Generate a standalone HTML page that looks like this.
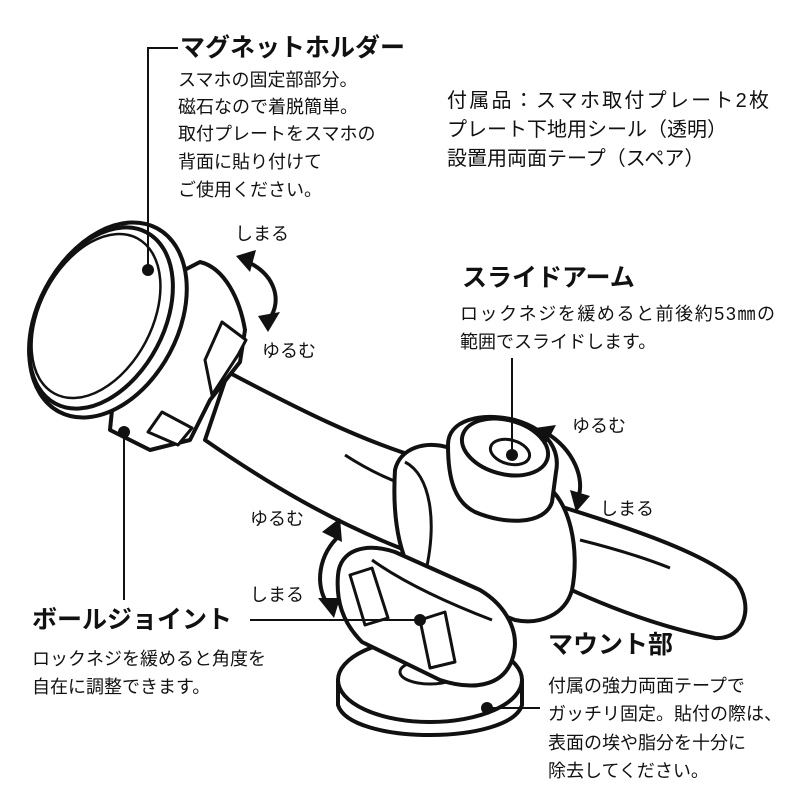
<!DOCTYPE html>
<html><head><meta charset="utf-8"><style>
html,body{margin:0;padding:0;background:#fff;}
svg{display:block;}
text{font-family:"Liberation Sans","Noto Sans CJK JP",sans-serif;fill:#111;}
.h{font-size:25px;font-weight:bold;}
.t{font-size:18px;}
.a{font-size:20px;}
</style></head><body>
<svg width="800" height="800" viewBox="0 0 800 800" xmlns="http://www.w3.org/2000/svg">
<g fill="#fff" stroke="#111" stroke-width="4" stroke-linejoin="round">
<!-- right arm part -->
<path d="M540,500 C620,525 700,550 735,580 C755,605 745,640 715,638 C650,625 590,600 540,575 Z"/>
<path d="M580,540 C620,550 650,560 670,568" fill="none" stroke-width="3"/>
<!-- left arm part -->
<path d="M228,372 C300,410 360,440 420,458 L400,548 C330,520 270,485 205,440 Z"/>
<path d="M345,455 C365,468 385,478 405,485" fill="none" stroke-width="3"/>
<!-- slider body -->
<path d="M395,470 C400,448 425,440 450,448 L545,485 C570,500 580,550 572,590 C565,615 540,625 515,620 L425,585 C400,570 392,520 395,470 Z"/>
<path d="M405,462 C430,475 438,520 425,575" fill="none" stroke-width="3"/>
<!-- slider knob -->
<path d="M448,445 C448,420 480,412 515,420 C550,430 560,452 556,472 L552,502 C545,525 505,525 475,512 C455,502 448,480 448,445 Z"/>
<ellipse cx="505" cy="447" rx="44" ry="27" transform="rotate(15 505 447)"/>
<ellipse cx="510" cy="452" rx="20" ry="12" transform="rotate(15 510 452)" stroke-width="3"/>
<!-- magnet holder body -->
<path d="M165,280 L200,262 C225,268 240,300 245,330 L240,362 L210,400 L190,440 L150,450 L110,430 L120,330 Z"/>
<path d="M212,395 L238,355 L246,340 L222,322 L205,360 Z" stroke-width="3"/>
<path d="M148,432 L162,412 L192,428 L178,445 Z" stroke-width="3"/>
<ellipse cx="108" cy="320" rx="70" ry="104" transform="rotate(28 108 320)"/>
<ellipse cx="101" cy="318" rx="63" ry="97" transform="rotate(28 101 318)"/>
<ellipse cx="96" cy="316" rx="56" ry="88" transform="rotate(28 96 316)" stroke-width="2.5"/>
<!-- post -->
<path d="M408,635 L408,690 L450,690 L450,635 Z"/>
<!-- mount disc -->
<path d="M338,680 L338,705 C350,745 510,745 522,705 L522,680 Z"/>
<ellipse cx="430" cy="680" rx="92" ry="42"/>
<ellipse cx="430" cy="672" rx="30" ry="12" stroke-width="3"/>
<!-- ball joint -->
<path d="M338,575 C340,550 365,542 395,552 L480,590 C505,605 522,632 512,660 C502,688 470,690 440,680 L362,642 C342,622 336,600 338,575 Z"/>
<path d="M372,560 C400,580 440,600 492,620" fill="none" stroke-width="3"/>
<path d="M350,575 L372,568 L388,618 L365,625 Z" stroke-width="3"/>
<path d="M420,620 L445,612 L455,662 L430,668 Z" stroke-width="3"/>
</g>
<!-- arrows -->
<g fill="none" stroke="#111" stroke-width="4">
<path d="M248,262 C275,275 282,300 270,318"/>
<path d="M340,535 C318,555 315,585 327,603"/>
<path d="M545,432 C575,450 585,480 578,498"/>
</g>
<g fill="#111">
<polygon points="236,256 256,250 250,272"/>
<polygon points="258,316 280,312 268,332"/>
<polygon points="340,518 342,542 322,532"/>
<polygon points="318,598 340,598 334,618"/>
<polygon points="535,428 556,425 546,444"/>
<polygon points="570,490 590,496 576,512"/>
</g>
<!-- leader lines -->
<g stroke="#111" stroke-width="2" fill="none">
<path d="M178,48 L148,48 L148,270"/>
<path d="M124,432 L124,600"/>
<path d="M512,358 L512,455"/>
<path d="M250,620 L420,620"/>
<path d="M488,708 L540,708"/>
</g>
<g fill="#111">
<circle cx="148" cy="270" r="6"/><circle cx="124" cy="432" r="6"/>
<circle cx="512" cy="455" r="6"/><circle cx="420" cy="620" r="6"/>
<circle cx="487" cy="708" r="6"/>
</g>
<!-- text -->
<text class="h" x="180" y="56">マグネットホルダー</text>
<text class="t" x="178" y="86">スマホの固定部部分。</text>
<text class="t" x="178" y="113">磁石なので着脱簡単。</text>
<text class="t" x="178" y="140">取付プレートをスマホの</text>
<text class="t" x="178" y="168">背面に貼り付けて</text>
<text class="t" x="178" y="196">ご使用ください。</text>
<text class="a" x="447" y="107" textLength="322">付属品：スマホ取付プレート2枚</text>
<text class="a" x="447" y="136">プレート下地用シール（透明）</text>
<text class="a" x="447" y="165">設置用両面テープ（スペア）</text>
<text class="t" x="235" y="240">しまる</text>
<text class="t" x="262" y="357">ゆるむ</text>
<text class="h" x="462" y="286">スライドアーム</text>
<text class="t" x="460" y="320" textLength="315">ロックネジを緩めると前後約53㎜の</text>
<text class="t" x="460" y="348">範囲でスライドします。</text>
<text class="t" x="572" y="432">ゆるむ</text>
<text class="t" x="600" y="515">しまる</text>
<text class="t" x="250" y="525">ゆるむ</text>
<text class="t" x="250" y="601">しまる</text>
<text class="h" x="32" y="628">ボールジョイント</text>
<text class="t" x="32" y="665">ロックネジを緩めると角度を</text>
<text class="t" x="32" y="693">自在に調整できます。</text>
<text class="h" x="548" y="653">マウント部</text>
<text class="t" x="548" y="692">付属の強力両面テープで</text>
<text class="t" x="548" y="720">ガッチリ固定。貼付の際は、</text>
<text class="t" x="548" y="749">表面の埃や脂分を十分に</text>
<text class="t" x="548" y="777">除去してください。</text>
</svg>
</body></html>
